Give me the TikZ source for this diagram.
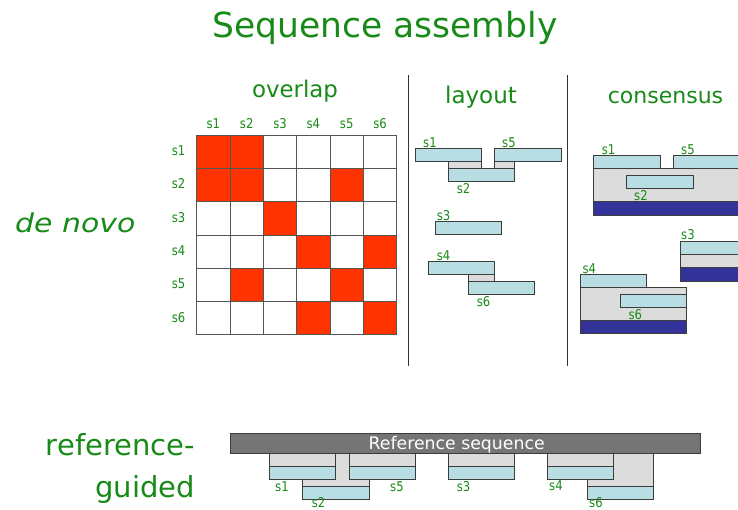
\documentclass[tikz,border=0pt]{standalone}
\usepackage{fontspec}
\setmainfont{DejaVu Sans}
\newfontfamily\labfont{DejaVu Sans}[FakeStretch=0.86]
\definecolor{labgreen}{HTML}{178A17}
\definecolor{hitred}{HTML}{FF3300}
\definecolor{readfill}{HTML}{B8DDE2}
\definecolor{gapfill}{HTML}{DCDCDC}
\definecolor{consfill}{HTML}{333399}
\definecolor{refgray}{HTML}{757575}
\definecolor{edge}{HTML}{3C3C3C}
\definecolor{gridc}{HTML}{555555}
\begin{document}
\begin{tikzpicture}[x=1pt,y=-1pt,
  read/.style={draw=edge,fill=readfill,line width=0.9pt},
  gapbox/.style={draw=edge,fill=gapfill,line width=0.9pt},
  consbar/.style={draw=edge,fill=consfill,line width=0.9pt},
  refbar/.style={draw=edge,fill=refgray,line width=0.9pt},
  lab/.style={text=labgreen,font=\labfont\fontsize{13.5}{13.5}\selectfont,anchor=base west,inner sep=0pt},
  clab/.style={lab,anchor=base},
  head/.style={text=labgreen,anchor=base,inner sep=0pt},
  big/.style={text=labgreen,font=\fontsize{29}{29}\selectfont,inner sep=0pt},
  divider/.style={draw=black!80,line width=1pt}
]
\useasboundingbox (0,0) rectangle (738,509);

% title and row headings
\node[text=labgreen,font=\fontsize{34.5}{34.5}\selectfont,anchor=base,inner sep=0pt] (title) at (385,37) {Sequence assembly};
\node[big,font=\fontsize{26}{26}\itshape,anchor=base west] (denovo) at (15,232) {\scalebox{1.15}[1]{de novo}};
\node[big,anchor=base east] (ref1) at (195,455) {reference-};
\node[big,anchor=base east] (ref2) at (195,497) {guided};

% column headings
\node[head,font=\fontsize{22.9}{22.9}\selectfont] (hoverlap) at (295,97) {overlap};
\node[head,font=\fontsize{23}{23}\selectfont] (hlayout) at (481,103) {layout};
\node[head,font=\fontsize{22}{22}\selectfont] (hcons) at (665.5,103) {consensus};

% dividers
\draw[divider] (408.3,75) -- (408.3,366);
\draw[divider] (567.5,75) -- (567.5,366);

% overlap matrix
\def\mx{196.7}\def\my{135}\def\cs{33.33}
\foreach \r/\c in {1/1,1/2,2/1,2/2,2/5,3/3,4/4,4/6,5/2,5/5,6/4,6/6}{
  \fill[hitred] ({\mx+(\c-1)*\cs},{\my+(\r-1)*\cs}) rectangle ++(\cs,\cs);
}
\foreach \i in {1,...,5}{
  \draw[gridc,line width=0.9pt] ({\mx+\i*\cs},\my) -- ++(0,{6*\cs});
  \draw[gridc,line width=0.9pt] (\mx,{\my+\i*\cs}) -- ++({6*\cs},0);
}
\draw[gridc,line width=1pt] (\mx,\my) rectangle ++({6*\cs},{6*\cs});
\foreach \i in {1,...,6}{
  \node[clab] (col\i) at ({\mx+(\i-0.5)*\cs},128) {s\i};
  \node[clab] (row\i) at (178.5,{\my+(\i-0.5)*\cs+4}) {s\i};
}

% layout
\draw[gapbox] (448.3,161.7) rectangle (481,168.3);
\draw[gapbox] (494.3,161.7) rectangle (514.3,168.3);
\draw[read] (415,148.7) rectangle (481,161.7);
\draw[read] (494.3,148.7) rectangle (561,161.7);
\draw[read] (448.3,168.3) rectangle (514.3,181.7);
\node[lab] (l1) at (423,147) {s1};
\node[lab] (l5) at (502,147) {s5};
\node[lab] (l2) at (456.7,193) {s2};
\draw[read] (435,221) rectangle (501.7,234.3);
\node[lab] (l3) at (436.7,220) {s3};
\draw[gapbox] (468.3,274.3) rectangle (494.3,281);
\draw[read] (428.3,261) rectangle (494.3,274.3);
\draw[read] (468.3,281) rectangle (534.3,294.3);
\node[lab] (l4) at (436.7,260) {s4};
\node[lab] (l6) at (476.7,306) {s6};

% consensus
\draw[gapbox] (593.3,168.3) rectangle (745,201.7);
\draw[consbar] (593.3,201.7) rectangle (745,215);
\draw[read] (593.3,155) rectangle (660,168.3);
\draw[read] (673.3,155) rectangle (745,168.3);
\draw[read] (626.7,175) rectangle (693.3,188.3);
\node[lab] (c1) at (601.7,154) {s1};
\node[lab] (c5) at (681,154) {s5};
\node[lab] (c2) at (634,200) {s2};
\draw[read] (680,241) rectangle (745,254.3);
\draw[gapbox] (680,254.3) rectangle (745,267.7);
\draw[consbar] (680,267.7) rectangle (745,281);
\node[lab] (c3) at (681,239) {s3};
\draw[gapbox] (580.7,287.7) rectangle (686.7,320);
\draw[consbar] (580.7,320) rectangle (686.7,333.3);
\draw[read] (580.7,274.3) rectangle (646.7,287.7);
\draw[read] (620,294) rectangle (686.7,307.3);
\node[lab] (c4) at (582.3,273) {s4};
\node[lab] (c6) at (628.3,319) {s6};

% reference-guided
\draw[gapbox] (302.7,453.3) rectangle (369,486);
\draw[read] (302.7,486) rectangle (369,499.3);
\draw[gapbox] (587.3,453.3) rectangle (653.3,486.7);
\draw[read] (587.3,486.7) rectangle (653.3,499.3);
\foreach \x in {269.3,349,448.3,547.3}{
  \draw[gapbox] (\x,453.3) rectangle ++(66.3,13.4);
  \draw[read] (\x,466.7) rectangle ++(66.3,12.6);
}
\draw[refbar] (230,433.3) rectangle (700,453.3);
\node[text=white,font=\fontsize{17.3}{17.3}\selectfont,anchor=base,inner sep=0pt] (reftext) at (456.7,449) {Reference sequence};
\node[lab] (r1) at (275,491) {s1};
\node[lab] (r5) at (390,491) {s5};
\node[lab] (r3) at (456.7,491) {s3};
\node[lab] (r4) at (549,490) {s4};
\node[lab] (r2) at (311.7,507) {s2};
\node[lab] (r6) at (589,507) {s6};
\end{tikzpicture}
\end{document}
